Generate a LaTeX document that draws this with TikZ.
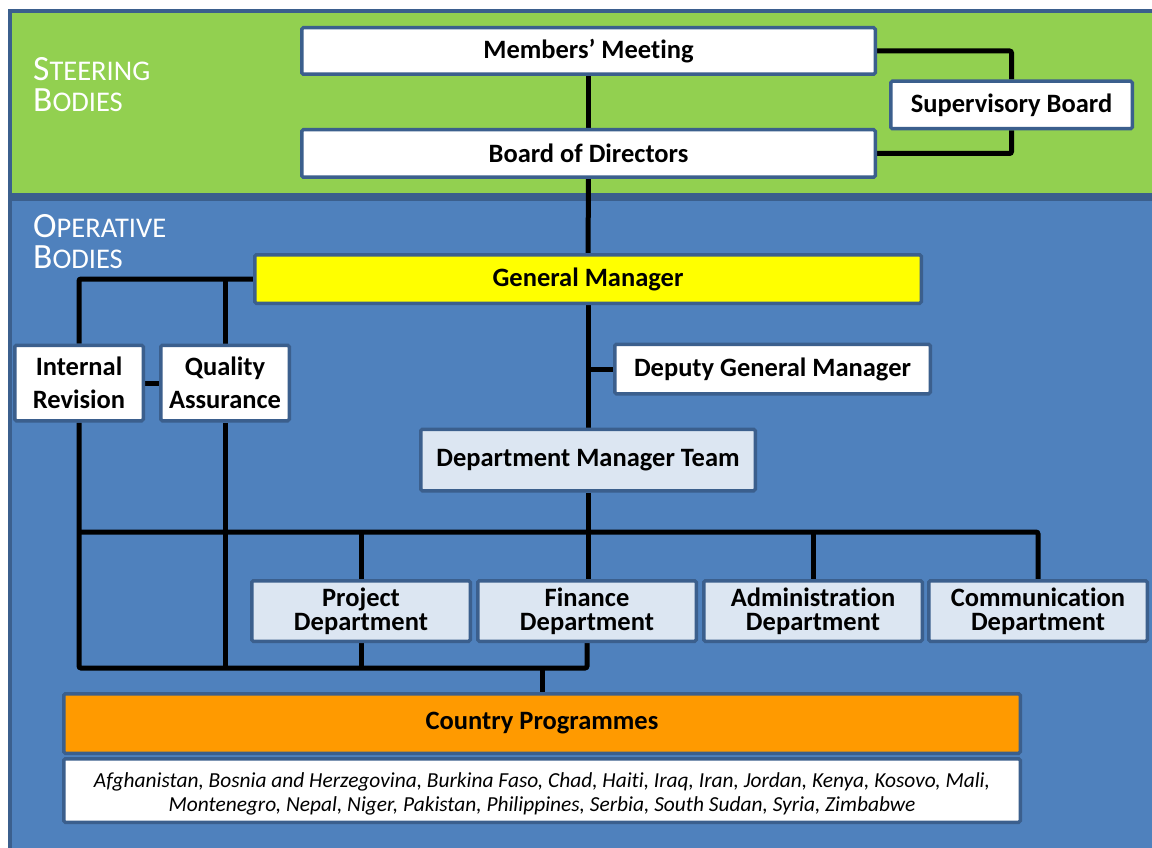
\documentclass[tikz,border=0pt]{standalone}
\usepackage{fontspec}
\setmainfont{Carlito}[Ligatures=NoCommon]
\usepackage{tikz}
\usetikzlibrary{shapes,arrows,positioning}

\definecolor{steergreen}{HTML}{92D050}
\definecolor{opblue}{HTML}{4F81BD}
\definecolor{boxline}{HTML}{3B5F8D}
\definecolor{deptfill}{HTML}{DCE6F2}
\definecolor{gmyellow}{HTML}{FFFF00}
\definecolor{cporange}{HTML}{FF9A00}

\pgfdeclarelayer{panel}
\pgfdeclarelayer{wire}
\pgfsetlayers{panel,wire,main}

\newcommand{\scap}[2]{{\fontsize{35.5}{31}\selectfont #1}{\fontsize{28.5}{31}\selectfont #2}}

\begin{document}
\begin{tikzpicture}[x=1pt, y=-1pt]
        \tikzstyle{block} = [rectangle, draw=boxline, line width=3.5pt, fill=white, align=center, rounded corners=1.5pt, inner sep=0pt, font=\bfseries\fontsize{26.5}{33}\selectfont]
        \tikzstyle{dept} = [block, fill=deptfill, minimum width=218.5pt, minimum height=60.5pt, font=\bfseries\fontsize{26.5}{24}\selectfont]
        \tikzstyle{line} = [draw, line width=5pt, rounded corners=2pt]
        \tikzstyle{paneltitle} = [text=white, anchor=base west, align=left, inner sep=0pt, font=\fontsize{35.5}{31}\selectfont]

        \useasboundingbox (0,0) rectangle (1152,848);

        % panels
        \begin{pgfonlayer}{panel}
        \fill[white] (0,0) rectangle (1152,848);
        \draw[draw=boxline, line width=4.5pt, fill=steergreen] (10,11) rectangle (1170,195);
        \draw[draw=boxline, line width=4.5pt, fill=opblue] (10,199) rectangle (1170,870);
        \end{pgfonlayer}

        \node [paneltitle] (steer) at (33,112) {\scap{S}{TEERING}\\\scap{B}{ODIES}};
        \node [paneltitle] (oper) at (33,268) {\scap{O}{PERATIVE}\\\scap{B}{ODIES}};

        \node [block, minimum width=573.5pt, minimum height=46.5pt] (mm) at (588.5,51) {Members’ Meeting};
        \node [block, minimum width=573.5pt, minimum height=47.5pt] (bod) at (588.5,153.5) {Board of Directors};
        \node [block, minimum width=241.5pt, minimum height=47.5pt] (sb) at (1011.5,105) {Supervisory Board};
        \node [block, fill=gmyellow, minimum width=666.5pt, minimum height=48.5pt] (gm) at (588,279) {General Manager};
        \node [block, minimum width=128.5pt, minimum height=75.5pt] (ir) at (79,383) {Internal\\Revision};
        \node [block, minimum width=128.5pt, minimum height=75.5pt] (qa) at (225,383) {Quality\\Assurance};
        \node [block, minimum width=315.5pt, minimum height=49.5pt] (dgm) at (772.5,369) {Deputy General Manager};
        \node [block, fill=deptfill, minimum width=334.5pt, minimum height=61.5pt] (dmt) at (588,460) {Department Manager Team};

        \node [dept] (pd) at (361,611) {Project\\Department};
        \node [dept] (fd) at (587,611) {Finance\\Department};
        \node [dept] (ad) at (813,611) {Administration\\Department};
        \node [dept] (cd) at (1038,611) {Communication\\Department};

        \node [block, fill=cporange, minimum width=956.5pt, minimum height=59.5pt] (cp) at (542,723.5) {Country Programmes};
        \node [block, minimum width=956.5pt, minimum height=63.5pt, font=\itshape\fontsize{21.4}{24}\selectfont] (list) at (542,790.5) {\rule{0pt}{22pt}Afghanistan, Bosnia and Herzegovina, Burkina Faso, Chad, Haiti, Iraq, Iran, Jordan, Kenya, Kosovo, Mali,\\Montenegro, Nepal, Niger, Pakistan, Philippines, Serbia, South Sudan, Syria, Zimbabwe};

        \coordinate (upbus) at (0,532);
        \coordinate (lowbus) at (0,668);

        \begin{pgfonlayer}{wire}
        \path [line] (mm) -- (bod);
        \path [line] (bod) -- (gm);
        \path [line] (mm.east) -| (sb.north);
        \path [line] (sb.south) |- (bod.east);
        \path [line] (gm.west) -| (ir.north);
        \path [line] (qa.north) -- (qa.north |- gm.west);
        \path [line] (ir) -- (qa);
        \path [line] (gm.south) -- (gm.south |- dmt.north);
        \path [line] (dgm.west) -- (dgm.west -| gm.south);
        \path [line] (dmt.south) -- (dmt.south |- fd.north);
        \path [line] (ir.south |- upbus) -| (cd.north);
        \path [line] (pd.north) -- (pd.north |- upbus);
        \path [line] (ad.north) -- (ad.north |- upbus);
        \path [line] (ir.south) -- (ir.south |- lowbus) -| (fd.south);
        \path [line] (qa.south) -- (qa.south |- lowbus);
        \path [line] (pd.south) -- (pd.south |- lowbus);
        \path [line] (cp.north) -- (cp.north |- lowbus);
        \end{pgfonlayer}
    \end{tikzpicture}
\end{document}
